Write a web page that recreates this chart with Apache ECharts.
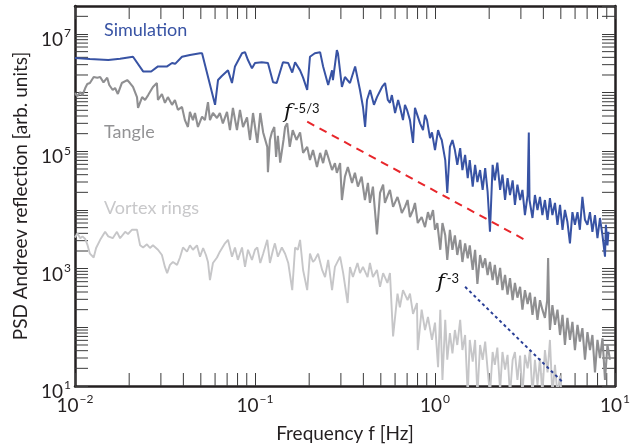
<!DOCTYPE html>
<html>
<head>
<meta charset="utf-8">
<script src="https://cdn.jsdelivr.net/npm/echarts@6/dist/echarts.min.js"></script>
<style>
html, body { margin: 0; padding: 0; background: #fff; }
#chart { width: 644px; height: 448px; }
</style>
</head>
<body>
<div id="chart"></div>
<script>
// axis ranges
var xMin = 0.01, xMax = 10;
var yMin = 10, yMax = 3e7;

// minor tick mantissas per decade
var minorMantissas = [2, 3, 4, 5, 6, 7, 8, 9];
var xDecades = [0.01, 0.1, 1];
var yDecades = [10, 100, 1e3, 1e4, 1e5, 1e6, 1e7];

// [frequency Hz, PSD]
var simulation = [
	[0.0100, 3.9e6], [0.0121, 3.75e6], [0.0153, 3.6e6], [0.0178, 3.8e6], [0.0210, 4.1e6],
	[0.0239, 2.3e6], [0.0265, 2.3e6], [0.0289, 2.8e6], [0.0325, 2.8e6], [0.0346, 3.2e6],
	[0.0360, 3.1e6], [0.0393, 4.1e6], [0.0435, 4.4e6], [0.0495, 4.7e6], [0.0508, 4.7e6],
	[0.0600, 6.2e5], [0.0623, 1.64e6], [0.0652, 1.9e6], [0.0708, 2.4e6], [0.0745, 1.46e6],
	[0.0774, 2.8e6], [0.0847, 4.7e6], [0.0880, 4.9e6], [0.0914, 3.6e6], [0.0962, 2.6e6],
	[0.100, 3.2e6], [0.109, 3.3e6], [0.118, 3.2e6], [0.126, 1.5e6], [0.132, 1.46e6],
	[0.143, 3.3e6], [0.153, 3.2e6], [0.161, 2.2e6], [0.167, 3.3e6], [0.178, 2.4e6],
	[0.185, 1.8e6], [0.195, 1.11e6], [0.202, 4.1e6], [0.215, 4.7e6], [0.230, 4.9e6],
	[0.239, 2.8e6], [0.255, 1.35e6], [0.268, 2.4e6], [0.271, 1.64e6], [0.285, 5.3e6],
	[0.289, 4.7e6], [0.304, 1.25e6], [0.316, 1.85e6], [0.337, 1.46e6], [0.360, 2.8e6],
	[0.383, 1.11e6], [0.398, 5.7e5], [0.409, 2.6e5], [0.419, 7.5e5], [0.436, 1.11e6],
	[0.458, 6.2e5], [0.476, 8.4e5], [0.508, 1.25e6], [0.528, 1.46e6], [0.547, 7.5e5],
	[0.562, 6.7e5], [0.576, 9.1e5], [0.600, 4.5e5], [0.624, 7.5e5], [0.639, 5.7e5],
	[0.664, 3.4e5], [0.681, 6.2e5], [0.699, 5.1e5], [0.726, 3.4e5], [0.755, 1.39e5],
	[0.774, 5.5e5], [0.794, 5.1e5], [0.826, 3.0e5], [0.858, 2.3e5], [0.880, 4.2e5],
	[0.903, 3.4e5], [0.938, 1.68e5], [0.962, 2.1e5], [1.00, 1.05e5], [1.04, 2.3e5],
	[1.07, 1.76e5], [1.09, 1.56e5], [1.14, 7.1e4], [1.17, 1.95e4], [1.21, 1.19e5],
	[1.25, 1.56e5], [1.29, 1.05e5], [1.33, 5.9e4], [1.38, 1.13e5], [1.42, 4.8e4],
	[1.47, 8.7e4], [1.52, 3.5e4], [1.56, 7.1e4], [1.62, 2.5e4], [1.67, 5.9e4],
	[1.72, 3.0e4], [1.78, 4.8e4], [1.84, 2.2e4], [1.90, 5.2e4], [1.96, 2.05e4],
	[2.02, 4.25e3], [2.09, 5.9e4], [2.15, 3.2e4], [2.22, 6.4e4], [2.30, 2.2e4],
	[2.37, 4.0e4], [2.45, 1.48e4], [2.53, 3.5e4], [2.61, 1.8e4], [2.70, 3.2e4],
	[2.78, 1.22e4], [2.87, 2.7e4], [2.97, 1.48e4], [3.06, 2.2e4], [3.16, 8.2e3],
	[3.27, 1.8e4], [3.32, 2.1e5], [3.35, 1.48e4], [3.48, 7.3e3], [3.59, 1.8e4],
	[3.71, 1.0e4], [3.83, 1.67e4], [3.95, 8.2e3], [4.08, 1.48e4], [4.22, 6.8e3],
	[4.35, 1.6e4], [4.49, 8.2e3], [4.64, 1.32e4], [4.79, 5.6e3], [4.95, 1.22e4],
	[5.11, 4.6e3], [5.27, 1.0e4], [5.44, 6.3e3], [5.62, 2.7e3], [5.80, 9.2e3],
	[5.99, 5.6e3], [6.19, 9.2e3], [6.38, 4.6e3], [6.59, 1.67e4], [6.81, 6.8e3],
	[7.03, 5.6e3], [7.26, 9.2e3], [7.49, 4.25e3], [7.74, 8.2e3], [7.99, 3.3e3],
	[8.25, 7.3e3], [8.52, 3.7e3], [8.80, 1.6e3], [8.90, 5.6e3], [9.08, 2.5e3],
	[9.20, 4.25e3]
];

var tangle = [
	[0.0100, 9.8e5], [0.0103, 8.75e5], [0.0107, 1.02e6], [0.0110, 9.1e5], [0.0114, 1.2e6],
	[0.0117, 1.4e6], [0.0121, 1.46e6], [0.0127, 1.85e6], [0.0133, 1.8e6], [0.0138, 1.85e6],
	[0.0144, 1.5e6], [0.0151, 1.8e6], [0.0155, 1.35e6], [0.0162, 1.11e6], [0.0167, 1.2e6],
	[0.0173, 9.5e5], [0.0182, 1.46e6], [0.0195, 1.64e6], [0.0202, 1.46e6], [0.0210, 1.25e6],
	[0.0221, 8.4e5], [0.0224, 5.5e5], [0.0236, 8.4e5], [0.0245, 7.5e5], [0.0255, 9.1e5],
	[0.0271, 1.25e6], [0.0285, 1.46e6], [0.0289, 7.5e5], [0.0304, 9.5e5], [0.0316, 6.7e5],
	[0.0328, 8.4e5], [0.0346, 6.2e5], [0.0359, 7.5e5], [0.0373, 5.1e5], [0.0393, 5.7e5],
	[0.0408, 3.4e5], [0.0424, 2.6e5], [0.0435, 4.7e5], [0.0452, 3.4e5], [0.0464, 4.5e5],
	[0.0482, 2.6e5], [0.0508, 3.9e5], [0.0527, 3.4e5], [0.0548, 6.9e5], [0.0562, 3.4e5],
	[0.0584, 4.5e5], [0.0615, 3.7e5], [0.0638, 4.5e5], [0.0663, 3.0e5], [0.0699, 4.7e5],
	[0.0726, 2.3e5], [0.0754, 5.5e5], [0.0794, 2.3e5], [0.0825, 5.1e5], [0.0858, 2.6e5],
	[0.0903, 3.8e5], [0.0938, 1.56e5], [0.0975, 4.5e5], [0.103, 1.39e5], [0.107, 4.5e5],
	[0.111, 2.1e5], [0.117, 1.19e5], [0.118, 4.4e4], [0.121, 1.56e5], [0.124, 2.1e5],
	[0.128, 2.6e5], [0.131, 8.0e4], [0.134, 1.83e5], [0.138, 6.4e4], [0.144, 1.56e5],
	[0.147, 2.6e5], [0.151, 3.0e5], [0.156, 1.19e5], [0.162, 2.3e5], [0.170, 1.56e5],
	[0.178, 2.1e5], [0.185, 9.4e4], [0.195, 1.19e5], [0.202, 7.1e4], [0.210, 1.05e5],
	[0.221, 5.4e4], [0.230, 9.4e4], [0.239, 6.3e4], [0.248, 1.05e5], [0.255, 8.0e4],
	[0.268, 4.8e4], [0.278, 6.3e4], [0.285, 4.3e4], [0.297, 6.3e4], [0.304, 1.48e4],
	[0.316, 3.7e4], [0.328, 5.4e4], [0.346, 2.9e4], [0.359, 4.3e4], [0.373, 2.5e4],
	[0.391, 3.7e4], [0.408, 1.48e4], [0.424, 2.9e4], [0.435, 1.32e4], [0.452, 2.5e4],
	[0.476, 3.85e3], [0.495, 1.95e4], [0.515, 2.7e4], [0.527, 1.32e4], [0.547, 1.8e4],
	[0.562, 2.2e4], [0.585, 1.13e4], [0.619, 1.67e4], [0.638, 1.22e4], [0.654, 8.9e3],
	[0.681, 1.13e4], [0.704, 1.48e4], [0.726, 7.6e3], [0.755, 1.0e4], [0.774, 1.32e4],
	[0.802, 6.0e3], [0.843, 7.6e3], [0.880, 5.1e3], [0.914, 9.2e3], [0.938, 6.8e3],
	[0.975, 1.0e4], [1.00, 4.6e3], [1.03, 6.0e3], [1.07, 2.1e3], [1.10, 6.0e3],
	[1.14, 3.7e3], [1.17, 1.41e3], [1.21, 4.6e3], [1.25, 2.1e3], [1.29, 3.7e3],
	[1.33, 1.71e3], [1.38, 3.1e3], [1.42, 1.3e3], [1.47, 2.7e3], [1.52, 1.5e3],
	[1.56, 2.5e3], [1.62, 950], [1.67, 2.1e3], [1.72, 550], [1.78, 1.71e3],
	[1.84, 1.03e3], [1.90, 1.5e3], [1.96, 780], [2.02, 1.3e3], [2.09, 640],
	[2.15, 1.16e3], [2.22, 530], [2.30, 1.03e3], [2.37, 430], [2.45, 780],
	[2.53, 360], [2.61, 690], [2.70, 290], [2.78, 570], [2.87, 320],
	[2.97, 490], [3.06, 200], [3.16, 430], [3.27, 250], [3.37, 390],
	[3.48, 163], [3.59, 330], [3.71, 134], [3.83, 290], [3.95, 200],
	[4.08, 145], [4.20, 290], [4.25, 1.52e3], [4.30, 240], [4.35, 90],
	[4.49, 240], [4.64, 110], [4.79, 200], [4.95, 74], [5.11, 163],
	[5.27, 50], [5.44, 145], [5.62, 61], [5.80, 124], [5.99, 41],
	[6.19, 110], [6.38, 57], [6.59, 97], [6.81, 28], [7.03, 83],
	[7.26, 41], [7.49, 74], [7.74, 17], [7.99, 61], [8.25, 30],
	[8.52, 65], [8.80, 12.7], [9.08, 50], [9.38, 28]
];

var vortexRings = [
	[0.0100, 3.4e3], [0.0103, 4.0e3], [0.0107, 3.3e3], [0.0110, 3.55e3], [0.0114, 3.2e3],
	[0.0117, 2.6e3], [0.0121, 1.8e3], [0.0127, 1.55e3], [0.0131, 2.25e3], [0.0138, 3.1e3],
	[0.0147, 4.25e3], [0.0153, 3.55e3], [0.0162, 3.3e3], [0.0171, 4.25e3], [0.0178, 3.3e3],
	[0.0190, 4.25e3], [0.0197, 3.9e3], [0.0207, 4.6e3], [0.0221, 4.6e3], [0.0230, 2.5e3],
	[0.0239, 2.3e3], [0.0251, 2.6e3], [0.0261, 2.25e3], [0.0271, 2.5e3], [0.0289, 2.1e3],
	[0.0304, 1.71e3], [0.0316, 1.07e3], [0.0325, 840], [0.0337, 1.16e3], [0.0350, 1.3e3],
	[0.0369, 1.16e3], [0.0383, 1.55e3], [0.0398, 2.3e3], [0.0419, 1.95e3], [0.0435, 2.5e3],
	[0.0452, 2.1e3], [0.0476, 2.5e3], [0.0495, 1.6e3], [0.0515, 2.25e3], [0.0534, 1.71e3],
	[0.0548, 1.3e3], [0.0562, 640], [0.0584, 1.25e3], [0.0615, 1.55e3], [0.0638, 1.95e3],
	[0.0652, 2.1e3], [0.0681, 2.7e3], [0.0708, 3.1e3], [0.0745, 1.6e3], [0.0774, 2.3e3],
	[0.0803, 1.41e3], [0.0847, 2.3e3], [0.0880, 1.07e3], [0.0914, 2.1e3], [0.0962, 1.41e3],
	[0.100, 2.1e3], [0.103, 2.3e3], [0.107, 1.25e3], [0.111, 1.8e3], [0.117, 3.1e3],
	[0.121, 1.25e3], [0.126, 2.1e3], [0.129, 2.7e3], [0.134, 1.6e3], [0.141, 2.3e3],
	[0.147, 1.8e3], [0.153, 1.25e3], [0.161, 430], [0.167, 2.3e3], [0.173, 2.1e3],
	[0.178, 3.1e3], [0.185, 950], [0.195, 430], [0.202, 1.8e3], [0.210, 1.3e3],
	[0.215, 1.41e3], [0.224, 1.8e3], [0.236, 950], [0.245, 720], [0.255, 1.41e3],
	[0.268, 430], [0.278, 1.07e3], [0.297, 1.6e3], [0.309, 840], [0.327, 260],
	[0.337, 1.07e3], [0.350, 720], [0.371, 1.25e3], [0.383, 840], [0.398, 1.07e3],
	[0.422, 720], [0.435, 1.25e3], [0.452, 720], [0.476, 950], [0.495, 490],
	[0.515, 840], [0.544, 570], [0.562, 840], [0.585, 70], [0.619, 375],
	[0.638, 220], [0.664, 430], [0.704, 290], [0.726, 375], [0.755, 170],
	[0.794, 260], [0.802, 41], [0.843, 200], [0.880, 90], [0.914, 150],
	[0.962, 61], [1.00, 120], [1.04, 21], [1.07, 200], [1.10, 12.7],
	[1.14, 134], [1.17, 28], [1.21, 80], [1.25, 36], [1.29, 90],
	[1.33, 50], [1.38, 134], [1.42, 41], [1.47, 74], [1.52, 7],
	[1.56, 61], [1.62, 26], [1.67, 61], [1.72, 7], [1.78, 50],
	[1.84, 28], [1.90, 57], [1.96, 19], [2.02, 7], [2.09, 38],
	[2.15, 23], [2.22, 45], [2.30, 8.5], [2.37, 38], [2.45, 19],
	[2.53, 34], [2.61, 7], [2.70, 28], [2.78, 38], [2.87, 12.7],
	[2.97, 33], [3.06, 7], [3.16, 34], [3.27, 20], [3.37, 41],
	[3.48, 7], [3.59, 28], [3.71, 10.4], [3.83, 30], [3.95, 7],
	[4.08, 41], [4.22, 17], [4.35, 61], [4.49, 7], [4.64, 23],
	[4.79, 7], [4.95, 15], [5.10, 5]
];

// guide lines: f^-5/3 and f^-3
var slopeKolmogorov = [[0.195, 3.2e5], [3.1, 3.2e3]];
var slopeCubic = [[1.47, 490], [5.14, 11.5]];

var xMinorTicks = [];
for (var i = 0; i < xDecades.length; i++)
	for (var j = 0; j < minorMantissas.length; j++)
		xMinorTicks.push([minorMantissas[j] * xDecades[i], yMin]);

var yMinorTicks = [];
for (var i = 0; i < yDecades.length; i++)
	for (var j = 0; j < minorMantissas.length; j++)
	{
		var v = minorMantissas[j] * yDecades[i];
		if (v < yMax * 0.999)
			yMinorTicks.push([xMin, v]);
	}

var fontName = 'Lato';
var ink = '#231f20';
var tickLen = 13;

var labelRich = {
	b: { fontSize: 19, fontFamily: fontName, color: ink, lineHeight: 19, padding: [12, 0, 0, 0] },
	s: { fontSize: 12, fontFamily: fontName, color: ink, lineHeight: 12, padding: [3, 0, 0, 1], verticalAlign: 'top' }
};

function powLabel(value, oddOnly)
{
	var lg = Math.log(value) / Math.LN10;
	var e = Math.round(lg);
	if (Math.abs(lg - e) > 1e-6)
		return '';
	if (oddOnly && Math.abs(e % 2) !== 1)
		return '';
	var txt = (e < 0 ? '\u2212' + (-e) : '' + e);
	return '{b|10}{s|' + txt + '}';
}

function tickLine(x1, y1, x2, y2)
{
	return {
		type: 'line',
		shape: { x1: x1, y1: y1, x2: x2, y2: y2 },
		style: { stroke: '#3a3a3a', lineWidth: 1 }
	};
}

function renderXMinor(params, api)
{
	var b = api.coord([api.value(0), yMin]);
	var t = api.coord([api.value(0), yMax]);
	return {
		type: 'group',
		children: [ tickLine(b[0], b[1], b[0], b[1] - tickLen), tickLine(t[0], t[1], t[0], t[1] + tickLen) ]
	};
}

function renderYMinor(params, api)
{
	var l = api.coord([xMin, api.value(1)]);
	var r = api.coord([xMax, api.value(1)]);
	return {
		type: 'group',
		children: [ tickLine(l[0], l[1], l[0] + tickLen, l[1]), tickLine(r[0], r[1], r[0] - tickLen, r[1]) ]
	};
}

function baseAxis(extra)
{
	var axis = {
		type: 'log',
		logBase: 10,
		interval: 1,
		axisLine: { show: true, onZero: false, lineStyle: { color: ink, width: 2.5 } },
		axisTick: { show: true, inside: true, length: tickLen, lineStyle: { color: '#3a3a3a', width: 1 } },
		splitLine: { show: false },
		minorTick: { show: false }
	};
	for (var k in extra)
		axis[k] = extra[k];
	return axis;
}

var chart = echarts.init(document.getElementById('chart'), null, { renderer: 'canvas' });

var option = {
	animation: false,
	backgroundColor: '#fff',
	grid: { left: 75, right: 29, top: 6, bottom: 62, containLabel: false },
	xAxis: [
		baseAxis({
			position: 'bottom', min: xMin, max: xMax,
			name: 'Frequency f [Hz]', nameLocation: 'middle', nameGap: 38,
			nameTextStyle: { fontSize: 19, fontFamily: fontName, color: ink },
			axisLabel: {
				margin: 4, hideOverlap: false, showMinLabel: true, showMaxLabel: true,
				formatter: function(v) { return powLabel(v, false); },
				rich: labelRich
			}
		}),
		baseAxis({ position: 'top', min: xMin, max: xMax, axisLabel: { show: false } })
	],
	yAxis: [
		baseAxis({
			position: 'left', min: yMin, max: yMax,
			name: 'PSD Andreev reflection [arb. units]', nameLocation: 'middle', nameGap: 44,
			nameTextStyle: { fontSize: 19, fontFamily: fontName, color: ink },
			axisLabel: {
				margin: 4, hideOverlap: false, showMinLabel: true, showMaxLabel: false,
				formatter: function(v) { return powLabel(v, true); },
				rich: labelRich
			}
		}),
		baseAxis({ position: 'right', min: yMin, max: yMax, axisLabel: { show: false } })
	],
	series: [
		{
			type: 'custom', name: 'xMinor', data: xMinorTicks, renderItem: renderXMinor,
			xAxisIndex: 0, yAxisIndex: 0, silent: true, z: 1
		},
		{
			type: 'custom', name: 'yMinor', data: yMinorTicks, renderItem: renderYMinor,
			xAxisIndex: 0, yAxisIndex: 0, silent: true, z: 1
		},
		{
			type: 'line', name: 'Vortex rings', data: vortexRings, showSymbol: false, symbol: 'none',
			lineStyle: { color: '#c6c6c8', width: 1.9 }, z: 2
		},
		{
			type: 'line', name: 'Tangle', data: tangle, showSymbol: false, symbol: 'none',
			lineStyle: { color: '#8f8f91', width: 2.1 }, z: 3
		},
		{
			type: 'line', name: 'Simulation', data: simulation, showSymbol: false, symbol: 'none',
			lineStyle: { color: '#3853a4', width: 2 }, z: 4
		},
		{
			type: 'line', name: 'f^-5/3', data: slopeKolmogorov, showSymbol: false, symbol: 'none',
			lineStyle: { color: '#e8262b', width: 2, type: [8, 6] }, z: 5
		},
		{
			type: 'line', name: 'f^-3', data: slopeCubic, showSymbol: false, symbol: 'none',
			lineStyle: { color: '#2a3f96', width: 2, type: [3, 3] }, z: 5
		}
	],
	graphic: [
		{ type: 'text', left: 104, top: 21, style: { text: 'Simulation', font: '18px Lato', fill: '#3853a4' } },
		{ type: 'text', left: 104, top: 123, style: { text: 'Tangle', font: '18px Lato', fill: '#939395' } },
		{ type: 'text', left: 104, top: 199, style: { text: 'Vortex rings', font: '18px Lato', fill: '#c8c8ca' } },
		{
			type: 'text', left: 284, top: 98,
			style: {
				text: '{f|f}{s|-5/3}',
				rich: {
					f: { fontSize: 21, fontFamily: 'DejaVu Serif', fontStyle: 'italic', fill: '#111', padding: [4, 0, 0, 0], lineHeight: 21 },
					s: { fontSize: 13, fontFamily: fontName, fill: '#111', verticalAlign: 'top', lineHeight: 13, padding: [2, 0, 0, 2] }
				}
			}
		},
		{
			type: 'text', left: 437, top: 268,
			style: {
				text: '{f|f}{s|-3}',
				rich: {
					f: { fontSize: 21, fontFamily: 'DejaVu Serif', fontStyle: 'italic', fill: '#111', padding: [4, 0, 0, 0], lineHeight: 21 },
					s: { fontSize: 13, fontFamily: fontName, fill: '#111', verticalAlign: 'top', lineHeight: 13, padding: [2, 0, 0, 2] }
				}
			}
		}
	]
};

chart.setOption(option);
</script>
</body>
</html>
